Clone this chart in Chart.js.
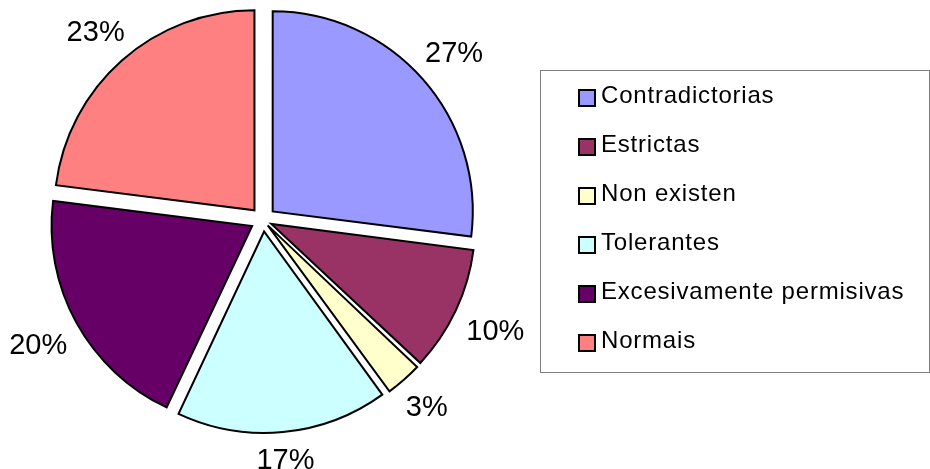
<!DOCTYPE html>
<html lang="es">

<head>
    <meta charset="UTF-8" />
    <title>Normas</title>
    <script src="https://cdn.jsdelivr.net/npm/chart.js"></script>
    <style>
        body {
            margin: 0;
            background: #fff;
            font-family: "Liberation Sans", Arial, sans-serif;
        }

        .grafico {
            position: relative;
            width: 930px;
            height: 469px;
        }

        #grafico_pizza {
            position: absolute;
            left: 0;
            top: 0;
        }

        .legenda {
            position: absolute;
            left: 540px;
            top: 70px;
            width: 390px;
            height: 303px;
            box-sizing: border-box;
            border: 1px solid #808080;
        }

        .legenda .item {
            position: absolute;
            left: 37px;
            display: flex;
            font-size: 24px;
            line-height: 24px;
            letter-spacing: 0.8px;
            color: #000;
            white-space: nowrap;
        }

        .legenda .caixa {
            display: inline-block;
            width: 14px;
            height: 14px;
            margin-top: 6px;
            margin-right: 5px;
            border: 2px solid #000;
        }
    </style>
</head>

<body>
    <div class="grafico">
        <canvas id="grafico_pizza" width="930" height="469"></canvas>
        <div class="legenda" id="legenda"></div>
    </div>

    <script>
        // dados do gráfico
        const categorias = ['Contradictorias', 'Estrictas', 'Non existen', 'Tolerantes', 'Excesivamente permisivas', 'Normais'];
        const porcentaxes = [27, 10, 3, 17, 20, 23];
        const rotulos = ['27%', '10%', '3%', '17%', '20%', '23%'];
        const cores = ['#9999FF', '#993366', '#FFFFCC', '#CCFFFF', '#660066', '#FF8080'];

        // afastamento das fatias (px)
        const separacao = 13;

        // o Chart.js desloca offset/4 * (2 - sin(ângulo)); compensa para todas saírem iguais
        function offsetFatia(context) {
            const total = porcentaxes.reduce((a, b) => a + b, 0);
            const angulo = 2 * Math.PI * porcentaxes[context.dataIndex] / total;
            return 4 * separacao / (2 - Math.sin(Math.min(Math.PI, angulo)));
        }

        // rótulos de porcentagem fora das fatias
        const rotulosPorcentagem = {
            id: 'rotulosPorcentagem',
            afterDatasetsDraw(chart) {
                const ctx = chart.ctx;
                const meta = chart.getDatasetMeta(0);
                ctx.save();
                ctx.font = '29px "Liberation Sans", Arial, sans-serif';
                ctx.fillStyle = '#000';
                ctx.textAlign = 'center';
                ctx.textBaseline = 'alphabetic';
                meta.data.forEach((arc, i) => {
                    const p = arc.getProps(['x', 'y', 'startAngle', 'endAngle', 'outerRadius']);
                    const meio = (p.startAngle + p.endAngle) / 2;
                    const w = ctx.measureText(rotulos[i]).width;
                    const h = 21;
                    const cx = Math.cos(meio);
                    const sy = Math.sin(meio);
                    const dist = p.outerRadius + separacao + 13 + Math.abs(cx) * w / 2 + Math.abs(sy) * h / 2;
                    ctx.fillText(rotulos[i], p.x + cx * dist, p.y + sy * dist + h / 2);
                });
                ctx.restore();
            }
        };

        const dataPizza = {
            labels: categorias,
            datasets: [{
                data: porcentaxes,
                backgroundColor: cores,
                borderColor: '#000',
                borderWidth: 2,
                borderJoinStyle: 'miter',
                offset: offsetFatia,
                radius: 200
            }]
        };

        const config = {
            type: 'pie',
            data: dataPizza,
            options: {
                responsive: false,
                animation: false,
                layout: {
                    padding: { left: 0, right: 404, top: 0, bottom: 29 }
                },
                plugins: {
                    legend: { display: false },
                    tooltip: { enabled: false }
                }
            },
            plugins: [rotulosPorcentagem]
        };

        const myChart = new Chart(document.getElementById('grafico_pizza'), config);

        // legenda em html
        const legenda = document.getElementById('legenda');
        for (let i = 0; i < categorias.length; i++) {
            const item = document.createElement('div');
            item.className = 'item';
            item.style.top = (12 + 49 * i) + 'px';
            item.innerHTML = `<span class="caixa" style="background:${cores[i]}"></span><span>${categorias[i]}</span>`;
            legenda.appendChild(item);
        }
    </script>
</body>

</html>
